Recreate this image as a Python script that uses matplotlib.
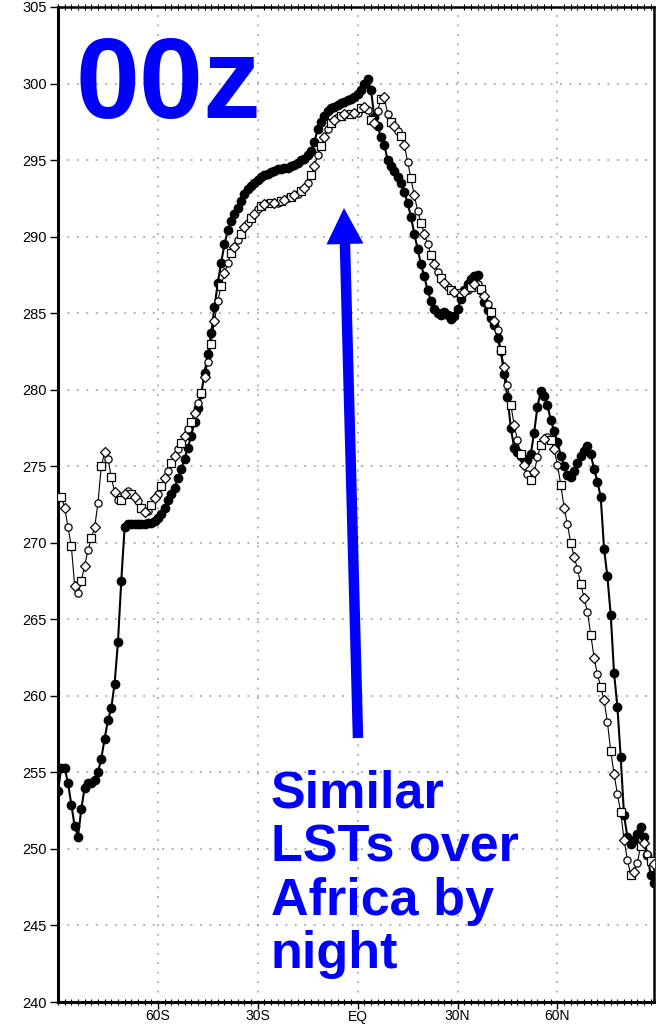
import matplotlib
matplotlib.use('Agg')
import matplotlib.pyplot as plt
from matplotlib.patches import FancyArrow
from matplotlib.ticker import MultipleLocator

plt.rcParams['font.family'] = ['Liberation Sans', 'DejaVu Sans']

# latitude grid, 1 degree steps
lats = list(range(-90, 90))

# zonal mean LST (K), filled markers
t_filled = [
    253.8, 255.3, 255.3, 254.3, 252.9, 251.5, 250.8, 252.6, 254.0, 254.3,   # -90..-81
    254.3, 254.5, 255.0, 255.9, 257.2, 258.4, 259.2, 260.8, 263.5, 267.5,   # -80..-71
    271.0, 271.2, 271.2, 271.2, 271.2, 271.2, 271.2, 271.3, 271.3, 271.4,   # -70..-61
    271.6, 271.9, 272.3, 272.8, 273.2, 273.6, 274.2, 274.8, 275.5, 276.2,   # -60..-51
    277.0, 277.9, 278.8, 279.7, 281.1, 282.3, 283.7, 285.4, 287.0, 288.3,   # -50..-41
    289.5, 290.4, 291.0, 291.5, 291.9, 292.3, 292.8, 293.1, 293.3, 293.5,   # -40..-31
    293.7, 293.9, 294.0, 294.1, 294.2, 294.3, 294.4, 294.4, 294.5, 294.5,   # -30..-21
    294.6, 294.7, 294.8, 295.0, 295.1, 295.3, 295.6, 296.2, 297.0, 297.5,   # -20..-11
    297.9, 298.2, 298.4, 298.5, 298.6, 298.7, 298.8, 298.9, 299.0, 299.1,   # -10..-1
    299.3, 299.6, 300.0, 300.3, 299.6, 297.8, 297.2, 296.5, 296.0, 295.0,   # 0..9
    294.6, 294.3, 293.9, 293.5, 292.9, 292.2, 291.3, 290.2, 289.2, 288.2,   # 10..19
    287.4, 286.5, 285.8, 285.3, 285.0, 284.9, 285.1, 284.9, 284.6, 284.8,   # 20..29
    285.3, 285.9, 286.5, 286.9, 287.2, 287.4, 287.5, 286.5, 285.7, 285.2,   # 30..39
    284.7, 284.2, 283.4, 282.5, 281.0, 279.5, 277.5, 276.2, 275.9, 275.7,   # 40..49
    275.5, 275.4, 275.8, 277.2, 278.9, 279.9, 279.6, 279.0, 278.0, 277.3,   # 50..59
    276.6, 275.7, 275.0, 274.4, 274.3, 274.7, 275.2, 275.7, 276.0, 276.3,   # 60..69
    275.8, 274.8, 274.0, 273.0, 269.6, 267.8, 265.3, 261.5, 259.3, 256.0,   # 70..79
    252.2, 250.8, 250.3, 250.6, 251.0, 251.4, 250.8, 249.6, 248.3, 247.8,   # 80..89
]

# zonal mean LST (K), open markers
t_open = [
    273.0, 273.0, 272.3, 271.0, 269.8, 267.2, 266.7, 267.5, 268.5, 269.5,   # -90..-81
    270.3, 271.0, 272.6, 275.0, 275.9, 275.5, 274.3, 273.3, 272.8, 272.8,   # -80..-71
    273.2, 273.4, 273.2, 273.0, 272.7, 272.3, 272.0, 272.1, 272.5, 272.9,   # -70..-61
    273.2, 273.7, 274.2, 274.7, 275.2, 275.7, 276.1, 276.5, 277.0, 277.4,   # -60..-51
    277.9, 278.5, 279.1, 279.8, 280.8, 281.8, 283.0, 284.5, 285.8, 286.8,   # -50..-41
    287.6, 288.3, 288.9, 289.3, 289.8, 290.2, 290.6, 290.9, 291.2, 291.5,   # -40..-31
    291.8, 292.0, 292.1, 292.2, 292.2, 292.2, 292.2, 292.3, 292.4, 292.5,   # -30..-21
    292.6, 292.7, 292.8, 293.0, 293.2, 293.5, 294.0, 294.6, 295.3, 295.9,   # -20..-11
    296.5, 297.0, 297.4, 297.6, 297.8, 297.9, 298.0, 298.0, 298.0, 298.1,   # -10..-1
    298.1, 298.4, 298.5, 298.3, 297.6, 297.4, 298.2, 299.0, 299.1, 298.0,   # 0..9
    297.5, 297.2, 296.9, 296.6, 296.0, 294.9, 293.8, 292.7, 291.7, 290.9,   # 10..19
    290.2, 289.5, 288.8, 288.2, 287.7, 287.3, 287.0, 286.7, 286.5, 286.4,   # 20..29
    286.3, 286.3, 286.4, 286.5, 286.7, 286.9, 286.9, 286.6, 286.1, 285.6,   # 30..39
    285.1, 284.5, 283.9, 282.6, 281.5, 280.3, 279.0, 277.7, 276.7, 275.8,   # 40..49
    275.1, 274.5, 274.1, 274.6, 275.6, 276.4, 276.8, 276.9, 276.7, 276.1,   # 50..59
    275.1, 273.8, 272.3, 271.2, 270.0, 269.1, 268.3, 267.3, 266.4, 265.5,   # 60..69
    264.0, 262.5, 261.4, 260.6, 259.7, 258.3, 256.4, 254.9, 253.6, 252.4,   # 70..79
    250.6, 249.3, 248.3, 248.5, 249.1, 250.2, 250.4, 249.7, 249.2, 249.0,   # 80..89
]

xtick_pos = [-60, -30, 0, 30, 60]
xtick_labels = ['60S', '30S', 'EQ', '30N', '60N']
yticks = list(range(240, 306, 5))

blue = '#0000ff'

fig = plt.figure(figsize=(6.6, 10.24), dpi=100)
ax = fig.add_axes([58 / 660, 22 / 1024, 596 / 660, 995 / 1024])

# filled series
ax.plot(lats, t_filled, color='black', lw=1.5, marker='o', ms=6,
        mfc='black', mec='black', zorder=3)

# open series: thin line + mixed open symbols
ax.plot(lats, t_open, color='black', lw=0.8, zorder=4)
for k, m in enumerate(['o', 's', 'D']):
    ax.plot(lats[k::3], t_open[k::3], ls='none', marker=m,
            ms=5.2 if m != 'D' else 4.7,
            mfc='white', mec='black', mew=0.9, zorder=5)

ax.set_xlim(-90, 89)
ax.set_ylim(240, 305)
ax.set_xticks(xtick_pos)
ax.set_xticklabels(xtick_labels)
ax.set_yticks(yticks)
ax.xaxis.set_minor_locator(MultipleLocator(2))

ax.grid(True, which='major', color='#999999', lw=1.1, linestyle=(0, (1.2, 5)))
ax.tick_params(axis='y', which='major', direction='out', length=6, width=1,
               labelsize=10.5, colors='black', pad=2)
ax.tick_params(axis='x', which='major', direction='out', length=5, width=1,
               labelsize=10, colors='black', pad=0.4, top=False)
ax.tick_params(axis='x', which='minor', direction='inout', length=4, width=0.8,
               top=True, bottom=True)

ax.spines['left'].set_linewidth(2.2)
ax.spines['bottom'].set_linewidth(2.2)
ax.spines['top'].set_linewidth(1.8)
ax.spines['right'].set_linewidth(1.8)

# annotations
fig.text(76 / 660, 1 - 118 / 1024, '00z', fontsize=83, fontweight='bold',
         color=blue, ha='left', va='baseline')

note_lines = ['Similar', 'LSTs over', 'Africa by', 'night']
note_base = [807, 862, 915, 968]
for line, yb in zip(note_lines, note_base):
    fig.text(271 / 660, 1 - yb / 1024, line, fontsize=37.5, fontweight='bold',
             color=blue, ha='left', va='baseline')

arrow = FancyArrow(3.58, 2.86, -0.14, 5.30, width=0.105, head_width=0.37,
                   head_length=0.36, length_includes_head=True,
                   fc=blue, ec='none', transform=fig.dpi_scale_trans)
fig.add_artist(arrow)

fig.savefig('out.png', dpi=100, facecolor='white')
